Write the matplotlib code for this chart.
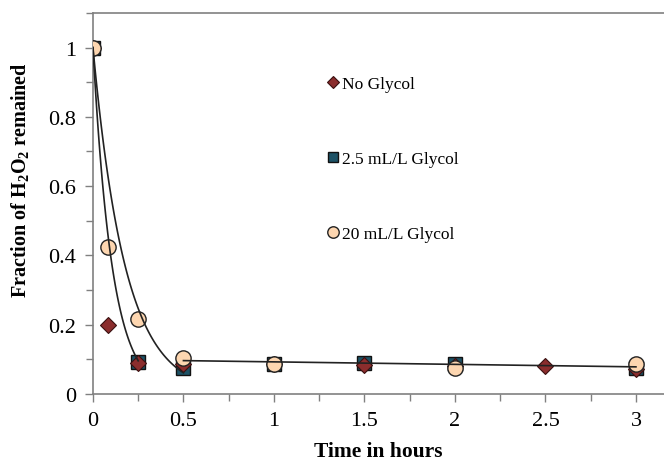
import numpy as np
import matplotlib
matplotlib.use("Agg")
import matplotlib.pyplot as plt
from matplotlib.ticker import MultipleLocator, FormatStrFormatter

plt.rcParams['font.family'] = ['Liberation Serif', 'DejaVu Serif']
plt.rcParams['mathtext.fontset'] = 'custom'
plt.rcParams['mathtext.rm'] = 'Liberation Serif'
plt.rcParams['mathtext.bf'] = 'Liberation Serif:bold'

# dados
t_no = [0, 0.083, 0.25, 0.5, 1, 1.5, 2, 2.5, 3]
y_no = [1.0, 0.20, 0.088, 0.085, 0.085, 0.082, 0.08, 0.08, 0.072]

t_25 = [0, 0.25, 0.5, 1, 1.5, 2, 3]
y_25 = [1.0, 0.093, 0.075, 0.085, 0.088, 0.085, 0.075]

t_20 = [0, 0.083, 0.25, 0.5, 1, 2, 3]
y_20 = [1.0, 0.425, 0.215, 0.105, 0.085, 0.075, 0.085]

# linhas de tendencia (exponencial e linear)
k_rapida, t_fim_rapida = 9.4, 0.25
k_lenta, t_fim_lenta = 5.6, 0.5
reta_t = [0.5, 3.0]
reta_y = [0.096, 0.078]

fig = plt.figure(figsize=(6.64, 4.64), dpi=100)
ax = fig.add_axes([0.14, 0.149, 0.86, 0.821])

ax.plot(t_25, y_25, linestyle="none", marker="s", markersize=10,
        markerfacecolor="#1d5266", markeredgecolor="#111111", markeredgewidth=1,
        label="2.5 mL/L Glycol", zorder=3)
ax.plot(t_no, y_no, linestyle="none", marker="D", markersize=8,
        markerfacecolor="#8b2d2d", markeredgecolor="#3a1010", markeredgewidth=0.8,
        label="No Glycol", zorder=4)
ax.plot(t_20, y_20, linestyle="none", marker="o", markersize=11,
        markerfacecolor="#fdd6b0", markeredgecolor="#222222", markeredgewidth=1,
        label="20 mL/L Glycol", zorder=5)

tr = np.linspace(0, t_fim_rapida, 100)
ax.plot(tr, np.exp(-k_rapida * tr), color="#222222", lw=1.2, zorder=6)
tl = np.linspace(0, t_fim_lenta, 100)
ax.plot(tl, np.exp(-k_lenta * tl), color="#222222", lw=1.2, zorder=6)
ax.plot(reta_t, reta_y, color="#222222", lw=1.2, zorder=6)

ax.set_xlim(0, 3.155)
ax.set_ylim(0, 1.1)
ax.xaxis.set_major_locator(MultipleLocator(0.5))
ax.xaxis.set_minor_locator(MultipleLocator(0.25))
ax.yaxis.set_major_locator(MultipleLocator(0.2))
ax.yaxis.set_minor_locator(MultipleLocator(0.1))
ax.xaxis.set_major_formatter(FormatStrFormatter('%g'))
ax.yaxis.set_major_formatter(FormatStrFormatter('%g'))

for s in ["left", "bottom", "top"]:
    ax.spines[s].set_color("#808080")
    ax.spines[s].set_linewidth(1.2)
ax.spines["right"].set_visible(False)
ax.tick_params(which="both", direction="out", color="#808080", labelsize=16,
               top=False, right=False, pad=6)
ax.tick_params(which="major", length=6, width=1)
ax.tick_params(which="minor", length=5, width=1)

ax.set_xlabel("Time in hours", fontsize=15.5, fontweight="bold", labelpad=8)
ax.set_ylabel(r"Fraction of H$_\mathbf{2}$O$_\mathbf{2}$ remained",
              fontsize=14.5, fontweight="bold")
ax.yaxis.set_label_coords(-0.107, 0.564)

h, l = ax.get_legend_handles_labels()
ordem = [1, 0, 2]
ax.legend([h[i] for i in ordem], [l[i] for i in ordem], loc="upper left",
          bbox_to_anchor=(317 / 664, 1 - 70 / 464), bbox_transform=fig.transFigure,
          frameon=False, fontsize=12.5, labelspacing=3.4, handletextpad=0.05,
          handlelength=1.0, borderaxespad=0, markerscale=0.75)

plt.savefig("out.png", dpi=100)
